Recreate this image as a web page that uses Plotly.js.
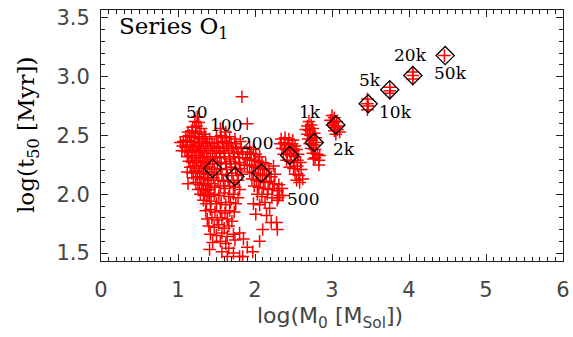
<!DOCTYPE html>
<html>
<head>
<meta charset="utf-8">
<script src="https://cdn.plot.ly/plotly-3.0.1.min.js"></script>
<style>html,body{margin:0;padding:0;background:#fff;}#plot{width:573px;height:337px;}</style>
</head>
<body>
<div id="plot"></div>
<script>
// ---- data (log M0, log t50) ----
const pts50 = [[1.25,2.66],[1.22,2.62],[1.27,2.61],[1.19,2.57],[1.24,2.58],[1.30,2.56],
[1.13,2.53],[1.18,2.54],[1.23,2.52],[1.28,2.53],[1.34,2.51],
[1.10,2.49],[1.15,2.50],[1.21,2.48],[1.26,2.49],[1.31,2.47],[1.36,2.49],[1.41,2.47],
[1.07,2.45],[1.12,2.46],[1.17,2.44],[1.22,2.45],[1.28,2.43],[1.33,2.45],[1.38,2.44],[1.44,2.43],
[1.06,2.41],[1.11,2.40],[1.16,2.42],[1.21,2.40],[1.26,2.41],[1.31,2.39],[1.36,2.41],[1.42,2.39],[1.47,2.41],
[1.09,2.37],[1.14,2.36],[1.19,2.38],[1.24,2.36],[1.29,2.37],[1.34,2.35],[1.39,2.37],[1.45,2.35],[1.50,2.37],
[1.12,2.32],[1.17,2.33],[1.22,2.31],[1.27,2.33],[1.32,2.31],[1.37,2.32],[1.42,2.30],[1.48,2.32],
[1.14,2.28],[1.19,2.27],[1.24,2.29],[1.29,2.27],[1.34,2.28],[1.39,2.26],[1.45,2.28],[1.51,2.26],
[1.16,2.23],[1.21,2.24],[1.26,2.22],[1.31,2.24],[1.36,2.22],[1.41,2.23],[1.47,2.21],
[1.12,2.19],[1.18,2.18],[1.23,2.20],[1.28,2.18],[1.33,2.19],[1.38,2.17],[1.44,2.19],[1.50,2.17],
[1.20,2.14],[1.25,2.15],[1.30,2.13],[1.35,2.14],[1.40,2.12],[1.46,2.14],
[1.13,2.09],[1.23,2.10],[1.28,2.08],[1.33,2.09],[1.38,2.07],[1.43,2.09],
[1.26,2.04],[1.31,2.05],[1.36,2.03],[1.41,2.04],
[1.29,2.00],[1.34,1.99],[1.39,2.01],[1.33,1.95],[1.05,2.37],[1.03,2.44]];

const pts100 = [[1.55,2.56],[1.62,2.53],[1.90,2.60],[1.83,2.83],
[1.50,2.49],[1.56,2.50],[1.61,2.48],[1.67,2.49],[1.74,2.47],
[1.52,2.44],[1.58,2.45],[1.63,2.43],[1.69,2.44],[1.75,2.43],[1.81,2.45],
[1.53,2.40],[1.59,2.39],[1.65,2.41],[1.70,2.39],[1.76,2.40],[1.82,2.39],
[1.55,2.36],[1.60,2.35],[1.66,2.37],[1.72,2.35],[1.78,2.36],[1.84,2.34],
[1.54,2.31],[1.61,2.32],[1.67,2.30],[1.73,2.32],[1.79,2.31],
[1.56,2.27],[1.62,2.26],[1.68,2.28],[1.74,2.26],[1.80,2.27],[1.86,2.25],
[1.55,2.22],[1.63,2.21],[1.69,2.23],[1.75,2.21],[1.81,2.22],
[1.57,2.17],[1.64,2.16],[1.70,2.18],[1.77,2.16],[1.83,2.17],
[1.52,2.12],[1.59,2.11],[1.65,2.12],[1.72,2.10],[1.78,2.12],
[1.48,2.06],[1.55,2.07],[1.61,2.05],[1.67,2.07],[1.74,2.06],[1.80,2.04],
[1.41,1.98],[1.47,2.00],[1.53,1.99],[1.60,2.01],[1.66,1.98],[1.72,2.00],[1.78,1.97],
[1.37,1.92],[1.43,1.94],[1.50,1.92],[1.56,1.93],[1.62,1.91],[1.68,1.93],[1.75,1.92],
[1.36,1.86],[1.42,1.87],[1.48,1.85],[1.55,1.86],[1.61,1.84],[1.67,1.86],[1.73,1.85],
[1.38,1.79],[1.44,1.80],[1.51,1.78],[1.57,1.80],[1.64,1.79],[1.70,1.77],
[1.40,1.73],[1.47,1.72],[1.53,1.74],[1.60,1.71],[1.66,1.73],
[1.42,1.66],[1.50,1.65],[1.57,1.67],[1.64,1.64],[1.72,1.66],[1.80,1.67],
[1.45,1.59],[1.55,1.60],[1.62,1.58],[1.74,1.61],[1.85,1.62],
[1.41,1.53],[1.57,1.51],[1.66,1.54],[1.72,1.50],[1.80,1.47],[1.90,1.55],[1.64,1.47]];

const pts200 = [[1.93,2.40],[1.98,2.38],[1.90,2.36],[1.95,2.35],[2.01,2.34],[2.06,2.32],
[1.88,2.31],[1.93,2.30],[1.99,2.29],[2.04,2.28],[2.09,2.27],[2.14,2.26],
[1.90,2.25],[1.96,2.24],[2.01,2.23],[2.07,2.22],[2.12,2.21],[2.18,2.22],[2.24,2.24],
[1.93,2.19],[1.98,2.18],[2.04,2.17],[2.10,2.16],[2.15,2.17],[2.21,2.15],[2.26,2.17],
[1.96,2.13],[2.02,2.12],[2.07,2.11],[2.13,2.10],[2.19,2.11],[2.25,2.09],[2.31,2.08],
[1.99,2.07],[2.05,2.06],[2.11,2.05],[2.17,2.04],[2.23,2.05],[2.29,2.03],[2.35,2.05],
[2.03,2.00],[2.09,1.98],[2.16,2.00],[2.22,1.97],[2.29,1.95],[2.36,1.99],
[1.98,1.92],[2.06,1.91],[2.13,1.93],[2.19,1.88],
[2.01,1.83],[2.15,1.82],[2.21,1.76],[2.29,1.70],[2.10,1.70],[2.06,1.60],[1.97,1.51],[1.84,1.47],[2.28,1.76]];

const pts500 = [[2.34,2.47],[2.39,2.48],[2.44,2.47],[2.49,2.46],
[2.33,2.43],[2.38,2.44],[2.43,2.42],[2.48,2.43],[2.52,2.41],
[2.35,2.39],[2.40,2.38],[2.45,2.39],[2.50,2.37],[2.54,2.38],
[2.37,2.34],[2.42,2.35],[2.47,2.33],[2.52,2.32],[2.56,2.34],
[2.41,2.29],[2.46,2.28],[2.51,2.27],[2.55,2.29],[2.59,2.27],
[2.45,2.23],[2.50,2.22],[2.55,2.24],[2.60,2.21],
[2.52,2.17],[2.57,2.16],[2.62,2.13],[2.58,2.10],[2.54,2.12],
[2.30,1.97],[2.32,1.99]];

const pts1k = [[2.70,2.62],[2.68,2.58],[2.73,2.59],[2.66,2.55],[2.71,2.54],[2.75,2.56],
[2.68,2.51],[2.72,2.50],[2.77,2.52],[2.69,2.47],[2.74,2.46],[2.79,2.48],
[2.71,2.43],[2.76,2.42],[2.80,2.44],[2.73,2.39],[2.78,2.38],[2.75,2.35],[2.81,2.34],
[2.78,2.31],[2.83,2.29],[2.83,2.25],[2.84,2.33],[2.76,2.30]];

const pts2k = [[3.00,2.67],[3.03,2.65],[2.98,2.63],[3.02,2.61],[3.06,2.62],[3.00,2.59],
[3.04,2.57],[3.08,2.58],[3.03,2.54],[3.07,2.55],[3.10,2.53],[3.05,2.51]];

const pts5k = [[3.46,2.81],[3.46,2.77],[3.47,2.75],[3.46,2.72]];
const pts10k = [[3.75,2.91],[3.75,2.88],[3.75,2.86]];
const pts20k = [[4.05,3.04],[4.05,3.01],[4.05,2.98]];
const pts50k = [[4.46,3.18]];

// mean positions (diamonds) and their labels
const meanLabels = ['50','100','200','500','1k','2k','5k','10k','20k','50k'];
const meanX = [1.45,1.74,2.08,2.45,2.77,3.05,3.47,3.75,4.05,4.47];
const meanY = [2.22,2.15,2.18,2.33,2.44,2.59,2.77,2.89,3.01,3.18];

const xTicks = [0,1,2,3,4,5,6];
const yTicks = [1.5,2.0,2.5,3.0,3.5];

// ---- styling / label offsets (pixels) ----
const labelShift = [[-16,56],[-9,52],[-4,30],[13,-44],[-4,31],[8,-24],[2,24],[6,-22],[-2,21],[5,-17]];

const allPts = [].concat(pts50, pts100, pts200, pts500, pts1k, pts2k, pts5k, pts10k, pts20k, pts50k);

const traces = [
  {
    type: 'scatter', mode: 'markers',
    x: allPts.map(p => p[0]), y: allPts.map(p => p[1]),
    marker: {symbol: 'cross-thin-open', size: 9, color: '#ff0000', line: {color: '#ff0000', width: 1.5}},
    hoverinfo: 'skip'
  },
  {
    type: 'scatter', mode: 'markers',
    x: meanX, y: meanY,
    marker: {symbol: 'diamond-open', size: 14, color: '#000', line: {color: '#000', width: 1.3}},
    hoverinfo: 'skip'
  }
];

const serif = 'DejaVu Serif, serif';
const sans = 'DejaVu Sans, sans-serif';

const annotations = meanLabels.map((t, i) => ({
  x: meanX[i], y: meanY[i], xref: 'x', yref: 'y', text: t, showarrow: false,
  xshift: labelShift[i][0], yshift: labelShift[i][1],
  font: {family: serif, size: 17, color: '#000'}
}));

annotations.push({
  xref: 'paper', yref: 'paper', x: 0.035, y: 0.928, xanchor: 'left', yanchor: 'middle',
  text: 'Series O<sub>1</sub>', showarrow: false,
  font: {family: serif, size: 23, color: '#000'}
});
annotations.push({
  xref: 'paper', yref: 'paper', x: 0.496, y: -0.227, xanchor: 'center', yanchor: 'middle',
  text: 'log(M<sub>0</sub> [M<sub>Sol</sub>])', showarrow: false,
  font: {family: sans, size: 22, color: '#444'}
});
annotations.push({
  xref: 'paper', yref: 'paper', x: -0.158, y: 0.502, xanchor: 'center', yanchor: 'middle',
  text: 'log(t<sub>50</sub> [Myr])', showarrow: false, textangle: -90,
  font: {family: serif, size: 23, color: '#000'}
});

const layout = {
  width: 573, height: 337,
  margin: {l: 101, r: 10, t: 10, b: 76, pad: 0},
  paper_bgcolor: '#fff', plot_bgcolor: '#fff',
  showlegend: false,
  xaxis: {
    range: [0, 6], tickvals: xTicks, ticktext: xTicks.map(String),
    showgrid: false, zeroline: false,
    showline: true, linecolor: '#222', linewidth: 1, mirror: 'allticks',
    ticks: 'inside', ticklen: 7, tickcolor: '#222', tickwidth: 1,
    minor: {dtick: 0.1, ticks: 'inside', ticklen: 4, tickcolor: '#222', tickwidth: 1, showgrid: false},
    tickfont: {family: sans, size: 21, color: '#444'},
    ticklabelstandoff: 10
  },
  yaxis: {
    range: [1.432, 3.568], tickvals: yTicks, ticktext: yTicks.map(v => v.toFixed(1)),
    showgrid: false, zeroline: false,
    showline: true, linecolor: '#222', linewidth: 1, mirror: 'allticks',
    ticks: 'inside', ticklen: 7, tickcolor: '#222', tickwidth: 1,
    minor: {dtick: 0.1, ticks: 'inside', ticklen: 4, tickcolor: '#222', tickwidth: 1, showgrid: false},
    tickfont: {family: sans, size: 21, color: '#444'},
    ticklabelstandoff: 6
  },
  annotations: annotations
};

Plotly.newPlot('plot', traces, layout, {staticPlot: true, displayModeBar: false});
</script>
</body>
</html>
